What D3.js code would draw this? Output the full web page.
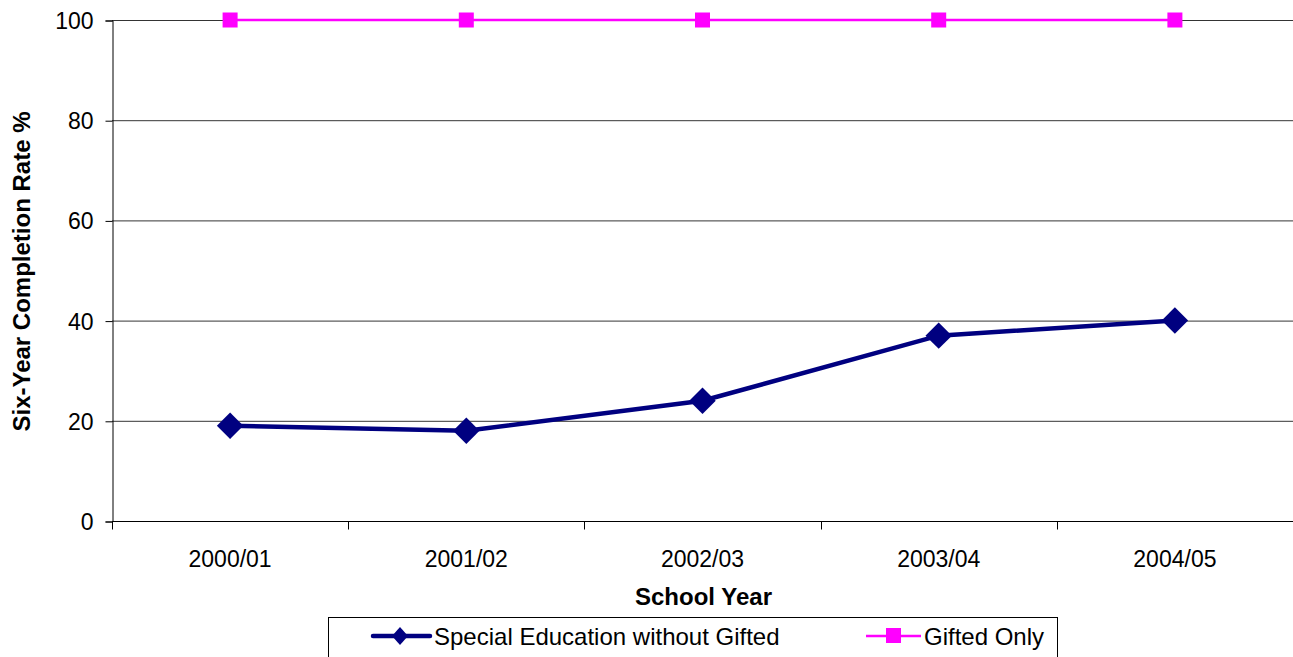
<!DOCTYPE html>
<html>
<head>
<meta charset="utf-8">
<script src="https://cdn.jsdelivr.net/npm/d3@7"></script>
<style>
  body { margin: 0; background: #fff; }
  svg { display: block; font-family: "Liberation Sans", Arial, sans-serif; }
</style>
</head>
<body>
<div id="chart"></div>
<script>
// six-year completion rate by school year
var years = ["2000/01", "2001/02", "2002/03", "2003/04", "2004/05"];
var specialEd = [19, 18, 24, 37, 40];
var giftedOnly = [100, 100, 100, 100, 100];
var yTicks = [0, 20, 40, 60, 80, 100];
var seriesNames = ["Special Education without Gifted", "Gifted Only"];

var W = 1293, H = 657;
var plotL = 112, plotR = 1293, plotT = 20, plotB = 521;

var svg = d3.select("#chart").append("svg")
    .attr("width", W)
    .attr("height", H);

var x = d3.scaleBand().domain(years).range([plotL, plotR]);
var y = d3.scaleLinear().domain([0, 100]).range([plotB, plotT]);

// gridlines
svg.append("g")
    .selectAll("line")
    .data(yTicks.filter(function(d) { return d > 0; }))
    .join("line")
    .attr("x1", plotL)
    .attr("x2", plotR)
    .attr("y1", function(d) { return y(d) + 0.5; })
    .attr("y2", function(d) { return y(d) + 0.5; })
    .style("stroke", "#000")
    .style("stroke-width", 0.8);

// y axis
var yAxis = svg.append("g")
    .attr("transform", "translate(" + (plotL + 0.5) + ",0.5)")
    .call(d3.axisLeft(y).tickValues(yTicks).tickSize(7).tickPadding(12));
yAxis.select(".domain").attr("stroke", "#000");
yAxis.selectAll("text")
    .style("font-size", "23px")
    .attr("fill", "#000")
    .attr("dy", "0.35em");

// x axis - ticks on band boundaries
var xAxis = svg.append("g")
    .attr("transform", "translate(0," + (plotB + 0.5) + ")");
xAxis.append("line")
    .attr("x1", plotL).attr("x2", plotR)
    .attr("y1", 0).attr("y2", 0)
    .style("stroke", "#000").style("stroke-width", 1);
xAxis.selectAll("line.tk")
    .data(years)
    .join("line")
    .attr("class", "tk")
    .attr("x1", function(d) { return Math.round(x(d)) + 0.5; })
    .attr("x2", function(d) { return Math.round(x(d)) + 0.5; })
    .attr("y1", 0).attr("y2", 8)
    .style("stroke", "#000").style("stroke-width", 1);
xAxis.selectAll("text")
    .data(years)
    .join("text")
    .attr("x", function(d) { return x(d) + x.bandwidth() / 2; })
    .attr("y", 45)
    .attr("text-anchor", "middle")
    .style("font-size", "23px")
    .text(function(d) { return d; });

// axis titles
svg.append("text")
    .attr("x", (plotL + plotR) / 2 + 1)
    .attr("y", 605)
    .attr("text-anchor", "middle")
    .style("font-size", "24px")
    .style("font-weight", "bold")
    .text("School Year");

svg.append("text")
    .attr("transform", "translate(30," + ((plotT + plotB) / 2 + 1) + ") rotate(-90)")
    .attr("text-anchor", "middle")
    .style("font-size", "24px")
    .style("font-weight", "bold")
    .text("Six-Year Completion Rate %");

var cx = function(d, i) { return x(years[i]) + x.bandwidth() / 2; };
var line = d3.line()
    .x(function(d, i) { return cx(d, i); })
    .y(function(d) { return y(d); });

// gifted only
svg.append("path")
    .datum(giftedOnly)
    .attr("d", line)
    .attr("fill", "none")
    .attr("stroke", "#ff00ff")
    .attr("stroke-width", 2.5);
svg.selectAll("rect.gift")
    .data(giftedOnly)
    .join("rect")
    .attr("class", "gift")
    .attr("x", function(d, i) { return cx(d, i) - 7.5; })
    .attr("y", function(d) { return y(d) - 7.5; })
    .attr("width", 15)
    .attr("height", 15)
    .attr("fill", "#ff00ff");

// special ed
svg.append("path")
    .datum(specialEd)
    .attr("d", line)
    .attr("fill", "none")
    .attr("stroke", "#000080")
    .attr("stroke-width", 4.5);
var diamond = d3.symbol().type(d3.symbolSquare).size(350);
svg.selectAll("path.sp")
    .data(specialEd)
    .join("path")
    .attr("class", "sp")
    .attr("d", diamond)
    .attr("transform", function(d, i) { return "translate(" + cx(d, i) + "," + y(d) + ") rotate(45)"; })
    .attr("fill", "#000080");

// legend
var lg = svg.append("g");
lg.append("rect")
    .attr("x", 328.5).attr("y", 617.5)
    .attr("width", 729).attr("height", 60)
    .attr("fill", "#fff")
    .attr("stroke", "#000")
    .attr("stroke-width", 1);

lg.append("line")
    .attr("x1", 373).attr("x2", 430).attr("y1", 636).attr("y2", 636)
    .attr("stroke", "#000080").attr("stroke-width", 4.5).attr("stroke-linecap", "round");
lg.append("path")
    .attr("d", "M400,627L408,636L400,645L392,636Z")
    .attr("fill", "#000080");
lg.append("text")
    .attr("x", 434).attr("y", 645)
    .style("font-size", "24px")
    .text(seriesNames[0]);

lg.append("line")
    .attr("x1", 866).attr("x2", 921).attr("y1", 636).attr("y2", 636)
    .attr("stroke", "#ff00ff").attr("stroke-width", 2.5);
lg.append("rect")
    .attr("x", 886).attr("y", 628).attr("width", 15).attr("height", 15)
    .attr("fill", "#ff00ff");
lg.append("text")
    .attr("x", 924).attr("y", 645)
    .style("font-size", "24px")
    .text(seriesNames[1]);
</script>
</body>
</html>
